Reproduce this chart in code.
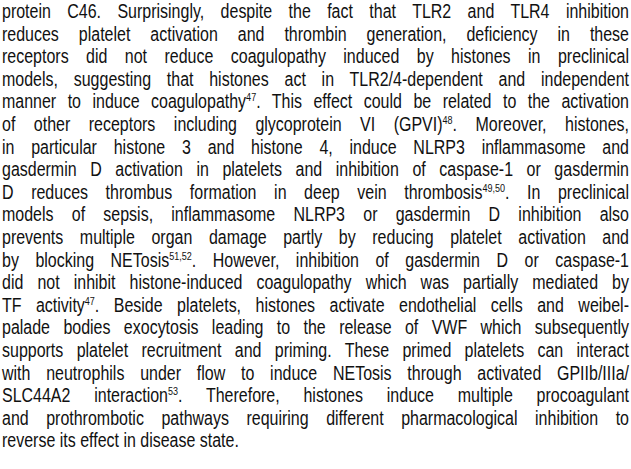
<!DOCTYPE html>
<html><head><meta charset="utf-8">
<script src="https://cdn.jsdelivr.net/npm/chart.js@4"></script>
<style>
html,body{margin:0;padding:0;background:#fff;width:631px;height:469px;overflow:hidden}
#txt{position:absolute;left:2px;top:0;width:765px;transform:scaleX(0.8196);transform-origin:0 0;font-family:"Liberation Sans Narrow","Liberation Sans",Arial,sans-serif;font-size:19.5px;line-height:22.6px;color:#111}
#txt div{text-align:justify;text-align-last:justify;white-space:nowrap}
#txt div.last{text-align-last:left}
sup{font-size:11px;line-height:0;vertical-align:7px}
</style></head><body>
<div id="txt"></div>
<script>
// the reference holds only text; each line is kept so the breaks match
const lines = [
  "protein C46. Surprisingly, despite the fact that TLR2 and TLR4 inhibition",
  "reduces platelet activation and thrombin generation, deficiency in these",
  "receptors did not reduce coagulopathy induced by histones in preclinical",
  "models, suggesting that histones act in TLR2/4-dependent and independent",
  "manner to induce coagulopathy<sup>47</sup>. This effect could be related to the activation",
  "of other receptors including glycoprotein VI (GPVI)<sup>48</sup>. Moreover, histones,",
  "in particular histone 3 and histone 4, induce NLRP3 inflammasome and",
  "gasdermin D activation in platelets and inhibition of caspase-1 or gasdermin",
  "D reduces thrombus formation in deep vein thrombosis<sup>49,50</sup>. In preclinical",
  "models of sepsis, inflammasome NLRP3 or gasdermin D inhibition also",
  "prevents multiple organ damage partly by reducing platelet activation and",
  "by blocking NETosis<sup>51,52</sup>. However, inhibition of gasdermin D or caspase-1",
  "did not inhibit histone-induced coagulopathy which was partially mediated by",
  "TF activity<sup>47</sup>. Beside platelets, histones activate endothelial cells and weibel-",
  "palade bodies exocytosis leading to the release of VWF which subsequently",
  "supports platelet recruitment and priming. These primed platelets can interact",
  "with neutrophils under flow to induce NETosis through activated GPIIb/IIIa/",
  "SLC44A2 interaction<sup>53</sup>. Therefore, histones induce multiple procoagulant",
  "and prothrombotic pathways requiring different pharmacological inhibition to",
  "reverse its effect in disease state."
];
const box = document.getElementById('txt');
lines.forEach((l, i) => {
  const d = document.createElement('div');
  d.innerHTML = l;
  if (i === lines.length - 1) d.className = 'last';
  box.appendChild(d);
});
</script>
</body></html>
